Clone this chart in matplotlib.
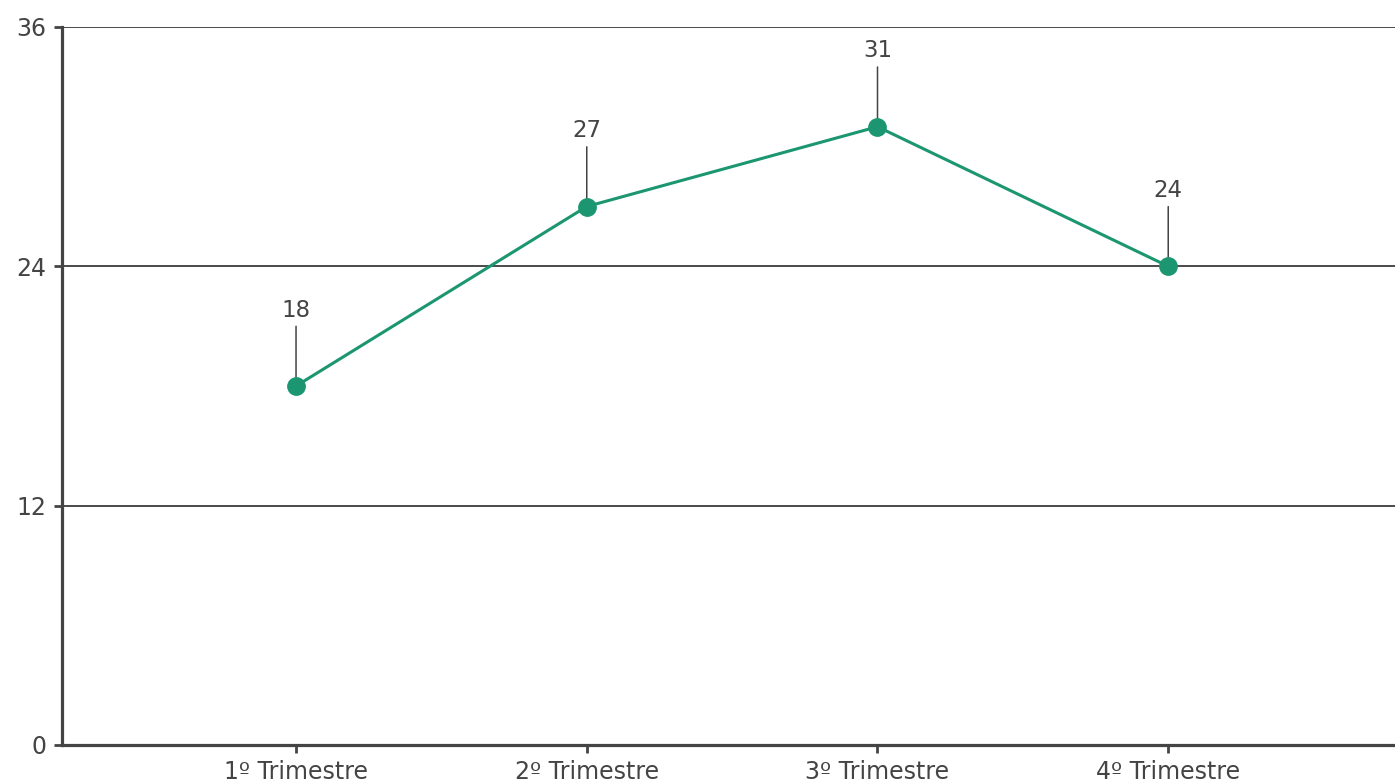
import matplotlib
matplotlib.use("Agg")
import matplotlib.pyplot as plt

categories = ["1º Trimestre", "2º Trimestre", "3º Trimestre", "4º Trimestre"]
values = [18, 27, 31, 24]
yticks = [0, 12, 24, 36]

plt.rcParams['font.family'] = ['DejaVu Sans']
fig = plt.figure(figsize=(13.95, 7.82), dpi=100)
ax = fig.add_axes([62/1395, 1-745/782, 1-62/1395, (745-27)/782])

axis_col = "#444444"
line_col = "#1b9670"

x = list(range(len(categories)))
for yv in yticks[1:]:
    ax.axhline(yv, color="#4a4a4a", lw=1.4, zorder=1)
ax.plot(x, values, color=line_col, lw=2.2, marker="o", markersize=12.5, zorder=3)

for xi, v in zip(x, values):
    ax.annotate("", xy=(xi, v), xytext=(0, 43), textcoords="offset points",
                arrowprops=dict(arrowstyle="-", color=axis_col, lw=1.1, shrinkA=0, shrinkB=0), zorder=2)
    ax.annotate(str(v), xy=(xi, v), xytext=(0, 50), textcoords="offset points",
                ha="center", va="baseline", fontsize=16.5, color=axis_col)

ax.set_xlim(-0.805, 3.78)
ax.set_ylim(0, 36)
ax.set_yticks(yticks)
ax.set_xticks(x)
ax.set_xticklabels(categories)
for s in ["top", "right"]:
    ax.spines[s].set_visible(False)
for s in ["left", "bottom"]:
    ax.spines[s].set_color(axis_col)
    ax.spines[s].set_linewidth(2.3)
ax.tick_params(axis="both", colors=axis_col, labelcolor=axis_col, width=2, length=6)
ax.tick_params(axis="y", pad=5, labelsize=17)
ax.tick_params(axis="x", pad=5, labelsize=17)

fig.savefig("out.png", dpi=100)
